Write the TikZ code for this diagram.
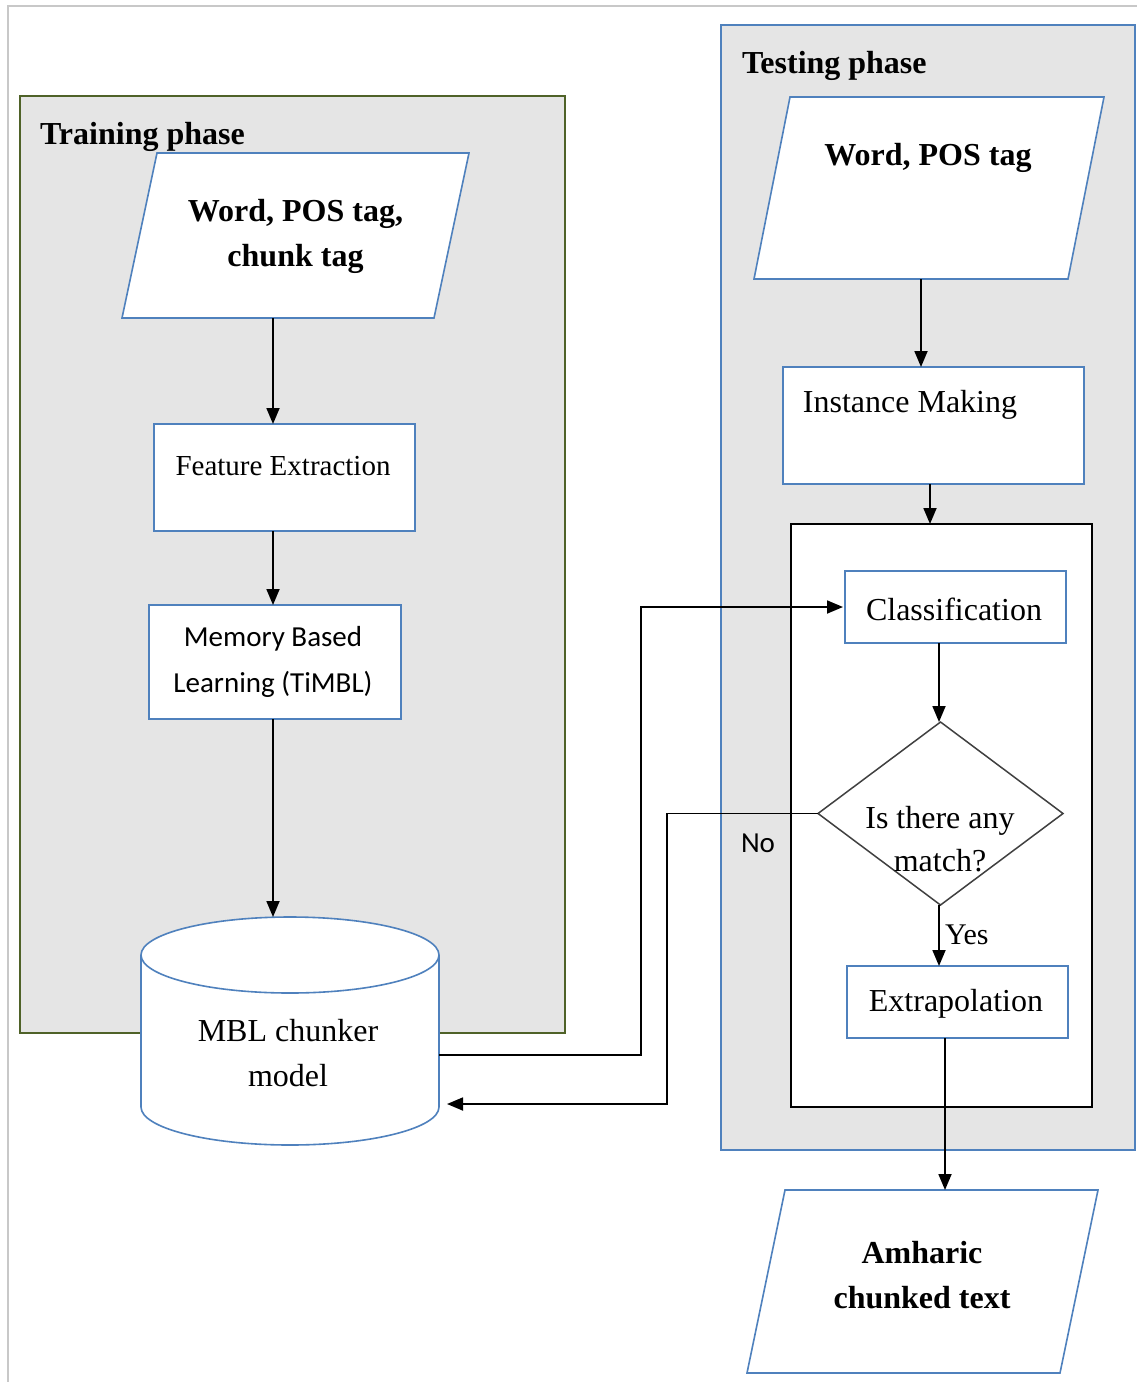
\documentclass[tikz,border=0pt]{standalone}
\usepackage{fontspec}
\setmainfont{Liberation Serif}
\newfontfamily\sansbody{Carlito}
\usetikzlibrary{arrows.meta,shapes.geometric}
\definecolor{panelfill}{RGB}{229,229,229}
\definecolor{boxblue}{RGB}{79,129,189}
\definecolor{panelgreen}{RGB}{79,98,40}
\definecolor{framegrey}{RGB}{200,200,200}
\definecolor{diagrey}{RGB}{64,64,64}
\begin{document}
\begin{tikzpicture}[x=1pt,y=-1pt,
  every node/.style={inner sep=0pt, outer sep=0pt},
  box/.style={rectangle, draw=boxblue, line width=1.6pt, fill=white},
  anchorbox/.style={rectangle, draw=none},
  pgram/.style={draw=boxblue, line width=1.6pt, fill=white, line join=miter},
  conn/.style={line width=1.8pt, draw=black},
  arr/.style={conn, -{Triangle[length=16pt,width=13pt]}},
  txt/.style={font=\fontsize{32}{45}\selectfont},
  txtsmall/.style={font=\fontsize{29}{40}\selectfont},
  headbold/.style={font=\fontsize{32}{45}\selectfont\bfseries},
  sanslabel/.style={font=\sansbody\fontsize{29}{46}\selectfont},
]
\useasboundingbox (0,0) rectangle (1137,1382);
\fill[white] (0,0) rectangle (1137,1382);
\draw[framegrey, line width=1.5pt] (8,1382) -- (8,6) -- (1137,6);

% phase panels
\node[rectangle, draw=panelgreen, fill=panelfill, line width=1.4pt,
      minimum width=545pt, minimum height=937pt] (trainpanel) at (292.5,564.5) {};
\node[rectangle, draw=boxblue, fill=panelfill, line width=1.4pt,
      minimum width=414pt, minimum height=1125pt] (testpanel) at (928,587.5) {};
\node[headbold, anchor=base west] (traintitle) at (40,144) {Training phase};
\node[headbold, anchor=base west] (testtitle) at (742,73) {Testing phase};

% ---- training column ----
\node[anchorbox, minimum width=347pt, minimum height=165pt] (tin) at (295.5,235.5) {};
\draw[pgram] ([xshift=35pt]tin.north west) -- (tin.north east)
  -- ([xshift=-35pt]tin.south east) -- (tin.south west) -- cycle;
\node[headbold, align=center] (tintext) at (295.5,236) {Word, POS tag,\\chunk tag};

\node[box, minimum width=261pt, minimum height=107pt] (fe) at (284.5,477.5) {};
\node[txtsmall] (fetext) at (283,466) {Feature Extraction};

\node[box, minimum width=252pt, minimum height=114pt] (mbl) at (275,662) {};
\node[sanslabel, align=center] (mbltext) at (273,662) {Memory Based\\Learning (TiMBL)};

% model store (cylinder)
\node[anchorbox, minimum width=298pt, minimum height=228pt] (mblm) at (290,1031) {};
\path[fill=white] (141,955) -- (141,1107)
  arc[start angle=180, end angle=360, x radius=149pt, y radius=38pt]
  -- (439,955)
  arc[start angle=0, end angle=180, x radius=149pt, y radius=38pt] -- cycle;
\draw[boxblue, line width=1.6pt] (141,955) -- (141,1107)
  arc[start angle=180, end angle=360, x radius=149pt, y radius=38pt] -- (439,955);
\draw[boxblue, line width=1.6pt] (290,955) ellipse[x radius=149pt, y radius=38pt];
\node[txt, align=center] (mblmtext) at (288,1053) {MBL chunker\\model};

% ---- testing column ----
\node[anchorbox, minimum width=350pt, minimum height=182pt] (tin2) at (929,188) {};
\draw[pgram] ([xshift=36pt]tin2.north west) -- (tin2.north east)
  -- ([xshift=-36pt]tin2.south east) -- (tin2.south west) -- cycle;
\node[headbold] (tin2text) at (928,158) {Word, POS tag};

\node[box, minimum width=301pt, minimum height=117pt] (im) at (933.5,425.5) {};
\node[txt] (imtext) at (910,405) {Instance Making};

\node[rectangle, draw=black, fill=white, line width=1.6pt,
      minimum width=301pt, minimum height=583pt] (inner) at (941.5,815.5) {};

\node[box, minimum width=221pt, minimum height=72pt] (cls) at (955.5,607) {};
\node[txt] (clstext) at (954,609) {Classification};

\node[diamond, draw=diagrey, fill=white, line width=1.5pt,
      minimum width=245pt, minimum height=183pt] (dia) at (940.5,813.5) {};
\node[txt, align=center, font=\fontsize{32}{43}\selectfont] (diatext) at (940,839) {Is there any\\match?};

\node[box, minimum width=221pt, minimum height=72pt] (ext) at (957.5,1002) {};
\node[txt] (exttext) at (956,1004) {Extrapolation};

\node[anchorbox, minimum width=351pt, minimum height=183pt] (out) at (922.5,1281.5) {};
\draw[pgram] ([xshift=38pt]out.north west) -- (out.north east)
  -- ([xshift=-38pt]out.south east) -- (out.south west) -- cycle;
\node[headbold, align=center] (outtext) at (922,1275) {Amharic\\chunked text};

% ---- connectors ----
\coordinate (tcol) at (273,0);
\coordinate (c1) at (921,0);
\coordinate (c2) at (930,0);
\coordinate (c3) at (939,0);
\coordinate (c4) at (945,0);
\coordinate (j1) at (641,1055);
\coordinate (j2) at (667,1104);

\draw[arr] (tcol |- tin.south) -- (tcol |- fe.north);
\draw[arr] (tcol |- fe.south) -- (tcol |- mbl.north);
\draw[arr] (tcol |- mbl.south) -- (tcol |- mblm.north);

\draw[arr] (c1 |- tin2.south) -- (c1 |- im.north);
\draw[arr] (c2 |- im.south) -- (c2 |- inner.north);
\draw[arr] (c3 |- cls.south) -- (c3 |- dia.north);
\draw[arr] (c3 |- dia.south) -- (c3 |- ext.north);
\draw[arr] (c4 |- ext.south) -- (c4 |- out.north);

\draw[arr, shorten >=2pt] (mblm.east |- j1) -- (j1) |- (cls.west);
\draw[arr, shorten >=8pt] (dia.west) -| (j2) -- (mblm.east |- j2);

\node[sanslabel] (nolabel) at (758,843) {No};
\node[font=\fontsize{30}{36}\selectfont, anchor=west] (yeslabel) at (945,935) {Yes};
\end{tikzpicture}
\end{document}
